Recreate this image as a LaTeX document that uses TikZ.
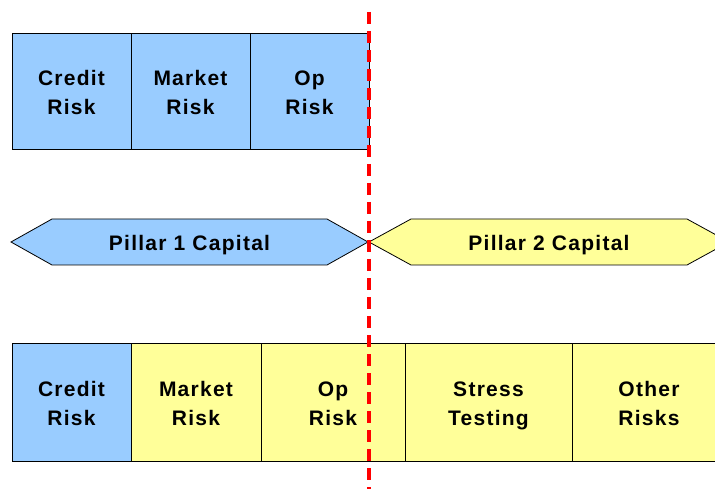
\documentclass[tikz,border=0pt]{standalone}
\usepackage{fontspec}
\usepackage{tikz}
\newfontfamily\riskfont{Liberation Sans}[LetterSpace=6]
\definecolor{pillarblue}{HTML}{99CCFF}
\definecolor{pillaryellow}{HTML}{FFFF99}
\tikzstyle{riskbox}=[draw=black,line width=0.8pt,rectangle,inner sep=0pt,align=center,
  text height=47pt,text depth=0pt,font=\riskfont\bfseries\fontsize{21}{29}\selectfont]
\tikzstyle{hexa}=[draw=black,line width=0.8pt]
\tikzstyle{pillartext}=[inner sep=0pt,text depth=0pt,font=\riskfont\bfseries\fontsize{21}{29}\selectfont]

\begin{document}
\begin{tikzpicture}[x=1pt,y=-1pt]
      \useasboundingbox (0,0) rectangle (715,489);
      \clip (0,0) rectangle (715,489);
      % Pillar 1 calculation
      \node[riskbox,fill=pillarblue,minimum width=119pt,minimum height=116pt] (c1) at (71.5,91) {Credit\\Risk};
      \node[riskbox,fill=pillarblue,minimum width=119pt,minimum height=116pt] (m1) at (190.5,91) {Market\\Risk};
      \node[riskbox,fill=pillarblue,minimum width=119pt,minimum height=116pt] (o1) at (309.5,91) {Op\\Risk};
      % capital arrows
      \draw[hexa,fill=pillarblue] (11,242) -- (52,219) -- (327,219) -- (368,242) -- (327,265) -- (52,265) -- cycle;
      \node[pillartext] (p1) at (189.5,243) {Pillar 1 Capital};
      \draw[hexa,fill=pillaryellow] (369,242) -- (411,219) -- (687,219) -- (729,242) -- (687,265) -- (411,265) -- cycle;
      \node[pillartext] (p2) at (549,243) {Pillar 2 Capital};
      % Pillar 2 assessment
      \node[riskbox,fill=pillarblue,minimum width=119pt,minimum height=118pt] (c2) at (71.5,402) {Credit\\Risk};
      \node[riskbox,fill=pillaryellow,minimum width=130pt,minimum height=118pt] (m2) at (196,402) {Market\\Risk};
      \node[riskbox,fill=pillaryellow,minimum width=144pt,minimum height=118pt] (o2) at (333,402) {Op\\Risk};
      \node[riskbox,fill=pillaryellow,minimum width=167pt,minimum height=118pt] (s2) at (488.5,402) {Stress\\Testing};
      \node[riskbox,fill=pillaryellow,minimum width=154pt,minimum height=118pt] (r2) at (649,402) {Other\\Risks};
      % divide
      \coordinate (top) at (369,12);
      \coordinate (bottom) at (369,489);
      \draw[red,line width=3.5pt,dash pattern=on 12pt off 7pt] (top) -- (bottom);
    \end{tikzpicture}
\end{document}
